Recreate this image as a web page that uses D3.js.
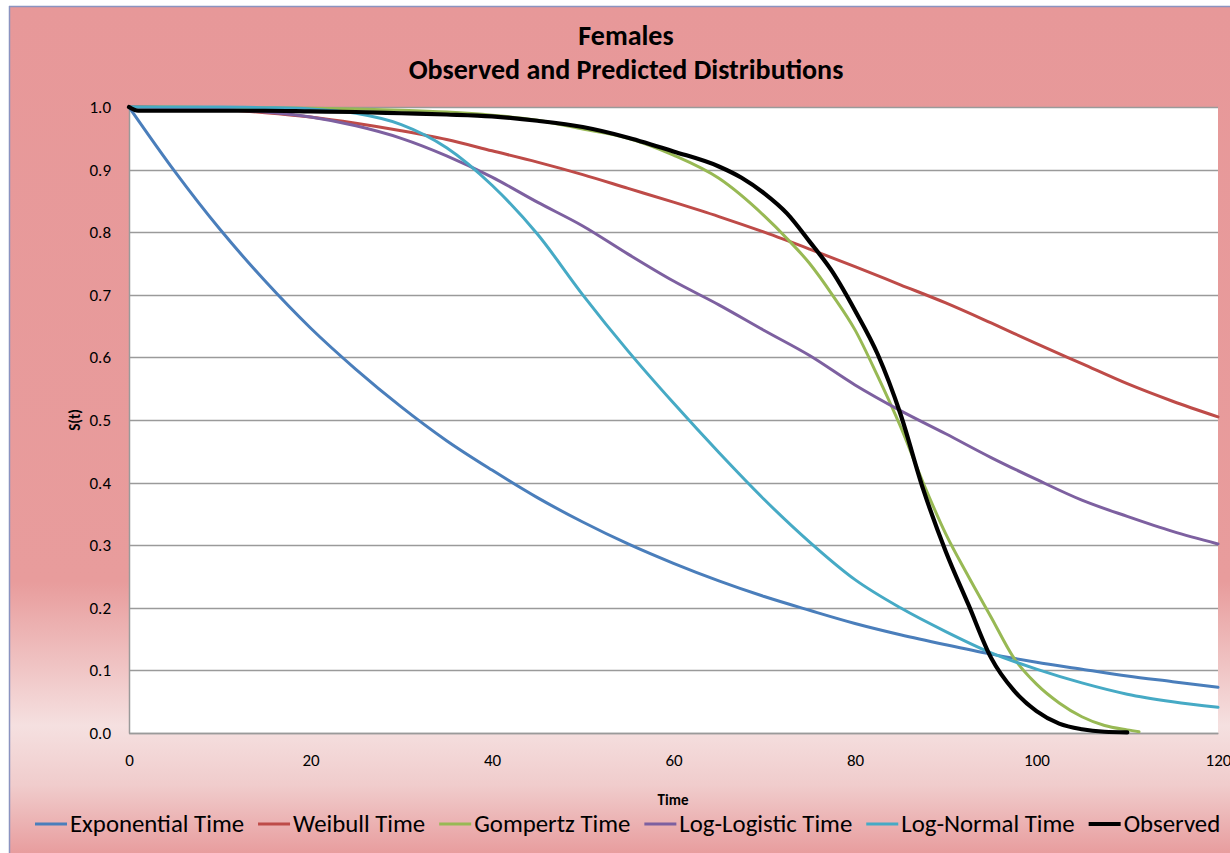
<!DOCTYPE html>
<html>
<head>
<meta charset="utf-8">
<script src="https://cdn.jsdelivr.net/npm/d3@7"></script>
<style>
  html, body { margin: 0; padding: 0; background: #ffffff; }
  svg { display: block; }
  text { font-family: Carlito, Calibri, Lato, "Open Sans", sans-serif; fill: #000; }
</style>
</head>
<body>
<svg id="chart" width="1230" height="853"></svg>
<script>
// Survival curves S(t) for females: fitted models and the observed curve
const seriesNames = ["Exponential Time", "Weibull Time", "Gompertz Time", "Log-Logistic Time", "Log-Normal Time", "Observed"];
const seriesColors = ["#4a7ebb", "#be4b48", "#98b954", "#7d60a0", "#46aac5", "#000000"];

const modelTimes = [0, 5, 10, 15, 20, 25, 30, 35, 40, 45, 50, 55, 60, 65, 70, 75, 80, 85, 90, 95, 100, 105, 110, 115, 120];
const exponentialS = [1.0, 0.898, 0.805, 0.722, 0.647, 0.581, 0.521, 0.467, 0.420, 0.376, 0.337, 0.302, 0.271, 0.243, 0.218, 0.196, 0.175, 0.157, 0.141, 0.126, 0.113, 0.102, 0.091, 0.082, 0.073];
const weibullS = [1.0, 0.999, 0.996, 0.991, 0.984, 0.974, 0.962, 0.948, 0.930, 0.912, 0.892, 0.870, 0.848, 0.825, 0.800, 0.773, 0.745, 0.716, 0.687, 0.655, 0.622, 0.590, 0.558, 0.530, 0.505];
const logLogisticS = [1.0, 0.999, 0.997, 0.992, 0.984, 0.970, 0.950, 0.922, 0.888, 0.848, 0.810, 0.765, 0.722, 0.684, 0.643, 0.603, 0.556, 0.515, 0.478, 0.440, 0.405, 0.372, 0.346, 0.322, 0.302];
const logNormalS = [1.0, 1.0, 1.0, 0.999, 0.997, 0.990, 0.972, 0.935, 0.875, 0.797, 0.700, 0.610, 0.527, 0.448, 0.373, 0.305, 0.245, 0.200, 0.162, 0.128, 0.102, 0.080, 0.062, 0.050, 0.041];

const gompertzTimes = [0, 5, 10, 15, 20, 25, 30, 35, 40, 45, 50, 55, 60, 65, 70, 72.5, 75, 77.5, 80, 82.5, 85, 87.5, 90, 92.5, 95, 97.5, 100, 102.5, 105, 107.5, 110, 111.3];
const gompertzS = [1.0, 1.0, 0.999, 0.999, 0.998, 0.997, 0.995, 0.992, 0.987, 0.979, 0.965, 0.950, 0.923, 0.886, 0.826, 0.79, 0.75, 0.70, 0.644, 0.57, 0.49, 0.40, 0.318, 0.25, 0.185, 0.12, 0.078, 0.048, 0.026, 0.012, 0.005, 0.002];

const observedTimes = [0, 1, 5, 10, 15, 20, 25, 30, 35, 40, 45, 50, 55, 60, 65, 67.5, 70, 72.5, 75, 77.5, 80, 82.5, 85, 87.5, 90, 92.5, 95, 97.5, 100, 102.5, 105, 107.5, 110];
const observedS = [1.0, 0.994, 0.994, 0.994, 0.994, 0.993, 0.992, 0.990, 0.988, 0.985, 0.978, 0.968, 0.951, 0.929, 0.905, 0.887, 0.862, 0.830, 0.785, 0.737, 0.675, 0.605, 0.51, 0.39, 0.29, 0.205, 0.12, 0.068, 0.035, 0.015, 0.006, 0.002, 0.001];

const xTicks = [0, 20, 40, 60, 80, 100, 120];
const yTicks = [0, 0.1, 0.2, 0.3, 0.4, 0.5, 0.6, 0.7, 0.8, 0.9, 1.0];

const seriesData = [
  modelTimes.map((t, i) => [t, exponentialS[i]]),
  modelTimes.map((t, i) => [t, weibullS[i]]),
  gompertzTimes.map((t, i) => [t, gompertzS[i]]),
  modelTimes.map((t, i) => [t, logLogisticS[i]]),
  modelTimes.map((t, i) => [t, logNormalS[i]]),
  observedTimes.map((t, i) => [t, observedS[i]])
];

const svg = d3.select("#chart");
const W = 1230, H = 853;
const plot = { left: 129, right: 1218, top: 107, bottom: 733 };

// Chart-area background: pink with a pale band near the bottom
const defs = svg.append("defs");
const grad = defs.append("linearGradient")
  .attr("id", "bg")
  .attr("gradientUnits", "userSpaceOnUse")
  .attr("x1", 0).attr("y1", 6).attr("x2", 0).attr("y2", 853);
[[0, "#e79899"], [0.68, "#e89c9c"], [0.85, "#f5e0e0"], [0.92, "#f0cccc"], [1, "#e89d9e"]]
  .forEach(([o, c]) => grad.append("stop").attr("offset", o).attr("stop-color", c));

svg.append("rect").attr("x", 9).attr("y", 6).attr("width", W).attr("height", H)
  .attr("fill", "url(#bg)");
svg.append("line").attr("x1", 9).attr("x2", W).attr("y1", 6.5).attr("y2", 6.5)
  .attr("stroke", "#8b93c0").attr("stroke-width", 1.5);
svg.append("line").attr("x1", 9.5).attr("x2", 9.5).attr("y1", 6).attr("y2", H)
  .attr("stroke", "#8b93c0").attr("stroke-width", 1.5);

const x = d3.scaleLinear().domain([0, 120]).range([plot.left, plot.right]);
const y = d3.scaleLinear().domain([0, 1]).range([plot.bottom, plot.top]);

// Plot area
svg.append("rect")
  .attr("x", plot.left).attr("y", plot.top)
  .attr("width", plot.right - plot.left).attr("height", plot.bottom - plot.top)
  .attr("fill", "#ffffff");

// Horizontal gridlines
svg.append("g")
  .selectAll("line").data(yTicks).join("line")
  .attr("x1", plot.left).attr("x2", plot.right)
  .attr("y1", d => Math.round(y(d)) + 0.5).attr("y2", d => Math.round(y(d)) + 0.5)
  .attr("stroke", "#9a9a9a").attr("stroke-width", 1.5);

// Axes
const yAxis = svg.append("g")
  .attr("transform", `translate(${plot.left},0)`)
  .call(d3.axisLeft(y).tickValues(yTicks).tickFormat(d3.format(".1f")).tickSize(0).tickPadding(18));
const xAxis = svg.append("g")
  .attr("transform", `translate(0,${plot.bottom})`)
  .call(d3.axisBottom(x).tickValues(xTicks).tickFormat(d3.format("d")).tickSize(0).tickPadding(21));
[yAxis, xAxis].forEach(g => {
  g.select(".domain").attr("stroke", "#9a9a9a").attr("stroke-width", 1.5);
  g.selectAll("text").attr("font-size", 17).attr("font-family", "Carlito, Calibri, Lato, sans-serif").attr("fill", "#000");
});

// Curves
const line = d3.line().x(d => x(d[0])).y(d => y(d[1])).curve(d3.curveMonotoneX);
const curves = svg.append("g");
seriesData.forEach((data, i) => {
  curves.append("path")
    .datum(data)
    .attr("d", line)
    .attr("fill", "none")
    .attr("stroke", seriesColors[i])
    .attr("stroke-width", i === 5 ? 4.2 : 3)
    .attr("stroke-linejoin", "round")
    .attr("stroke-linecap", "round");
});

// Titles
svg.append("text").attr("x", 626).attr("y", 45).attr("text-anchor", "middle")
  .attr("font-size", 28).attr("font-weight", "bold").text("Females");
svg.append("text").attr("x", 626).attr("y", 79).attr("text-anchor", "middle")
  .attr("font-size", 28).attr("font-weight", "bold").text("Observed and Predicted Distributions");
svg.append("text").attr("x", 673).attr("y", 805).attr("text-anchor", "middle")
  .attr("font-size", 15).attr("font-weight", "bold").text("Time");
svg.append("text").attr("transform", "translate(80,420) rotate(-90)").attr("text-anchor", "middle")
  .attr("font-size", 15).attr("font-weight", "bold").text("S(t)");

// Legend
const legend = svg.append("g");
let lx = 35;
seriesNames.forEach((name, i) => {
  legend.append("line")
    .attr("x1", lx).attr("x2", lx + 32).attr("y1", 824).attr("y2", 824)
    .attr("stroke", seriesColors[i]).attr("stroke-width", i === 5 ? 4 : 3);
  const t = legend.append("text").attr("x", lx + 35).attr("y", 832)
    .attr("font-size", 24.8).text(name);
  lx += 35 + t.node().getComputedTextLength() + 14;
});
</script>
</body>
</html>
